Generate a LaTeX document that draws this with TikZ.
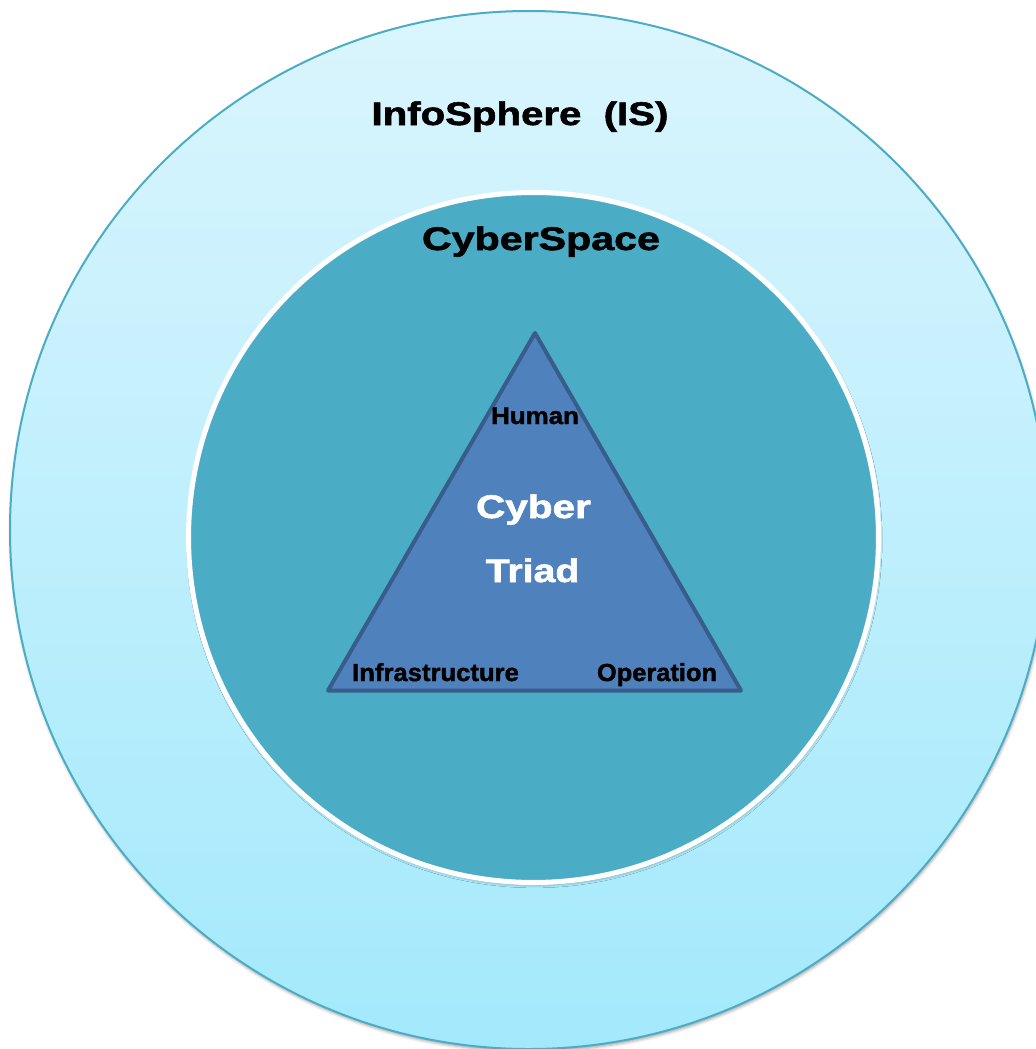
\documentclass[tikz,border=0pt]{standalone}
\usepackage{fontspec}
\setmainfont{Liberation Sans}[BoldFeatures={FakeBold=1.6}]
\usetikzlibrary{shadows.blur}
\definecolor{outerTop}{RGB}{218,245,253}
\definecolor{outerBot}{RGB}{163,233,252}
\definecolor{outerLine}{RGB}{75,172,198}
\definecolor{cyberFill}{RGB}{75,172,198}
\definecolor{triFill}{RGB}{79,129,189}
\definecolor{triLine}{RGB}{56,93,138}
\tikzset{
  lbl/.style={anchor=base, inner sep=0pt, text=black},
  big/.style={font=\bfseries\fontsize{24.5}{25}\selectfont},
  corner/.style={font=\bfseries\fontsize{18.5}{19}\selectfont},
  shadowed/.style={blur shadow={shadow xshift=0.6pt, shadow yshift=-1.8pt, shadow blur radius=2.2pt, shadow opacity=35}}
}
\begin{document}
\begin{tikzpicture}[x=0.75pt,y=-0.75pt]
\useasboundingbox (0,0) rectangle (1035,1049);
% InfoSphere
\path[shadowed, top color=outerTop, bottom color=outerBot, draw=outerLine, line width=1.5pt]
  (529,530) circle[radius=519];
% CyberSpace
\path[shadowed, fill=cyberFill, draw=white, line width=3.8pt]
  (533.5,537.5) circle[radius=345];
% Triangle
\coordinate (apex) at (535,333);
\coordinate (bl) at (328,690.5);
\coordinate (br) at (741,690.5);
\draw[fill=triFill, draw=triLine, line width=3pt, line join=round] (apex) -- (bl) -- (br) -- cycle;
% Labels
\node[lbl, big] (is) at (520,125) {\scalebox{1.23}[1]{InfoSphere\ \ (IS)}};
\node[lbl, big] (cs) at (541,250) {\scalebox{1.26}[1]{CyberSpace}};
\node[lbl, font=\bfseries\fontsize{18}{18}\selectfont] (human) at (535,424) {\scalebox{1.08}[1]{Human}};
\node[lbl, big, text=white] (cyber) at (533.5,518) {\scalebox{1.24}[1]{Cyber}};
\node[lbl, big, text=white] (triad) at (532.5,582) {\scalebox{1.2}[1]{Triad}};
\node[lbl, corner] (infra) at (435.5,681) {\scalebox{1.04}[1]{Infrastructure}};
\node[lbl, corner] (oper) at (657,681) {\scalebox{1.03}[1]{Operation}};
\end{tikzpicture}
\end{document}
